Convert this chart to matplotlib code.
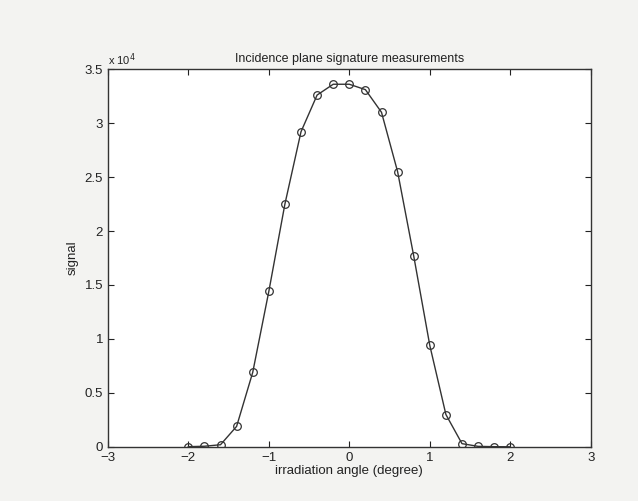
import numpy as np
import matplotlib.pyplot as plt
from matplotlib.ticker import FuncFormatter

plt.rcParams['font.family'] = ['Liberation Sans', 'DejaVu Sans']

angle = [-2.0, -1.8, -1.6, -1.4, -1.2, -1.0, -0.8, -0.6, -0.4, -0.2, 0.0,
         0.2, 0.4, 0.6, 0.8, 1.0, 1.2, 1.4, 1.6, 1.8, 2.0]
signal = [20, 60, 200, 1900, 6900, 14400, 22500, 29200, 32600, 33600, 33600,
          33100, 31000, 25500, 17700, 9400, 3000, 300, 50, 20, 10]

fig = plt.figure(figsize=(6.38, 5.01), dpi=100, facecolor='#f3f3f1')
ax = fig.add_axes([0.169, 0.108, 0.757, 0.754])
ax.set_facecolor('white')

ax.plot(angle, signal, '-', color='#333333', lw=1.0,
        marker='o', mfc='none', mec='#333333', ms=5.5, mew=0.9)

ax.set_xlim(-3, 3)
ax.set_ylim(0, 35000)
ax.set_xticks([-3, -2, -1, 0, 1, 2, 3])
ax.set_yticks(np.arange(0, 35001, 5000))
ax.yaxis.set_major_formatter(FuncFormatter(lambda v, p: f"{v/1e4:g}"))
ax.tick_params(direction='in', length=4, labelsize=9.5, colors='#222222',
               top=True, right=True)
for s in ax.spines.values():
    s.set_color('#333333')
    s.set_linewidth(1.0)

ax.text(0.0, 1.003, r'x 10$^4$', transform=ax.transAxes, fontsize=8,
        color='#222222', va='bottom', ha='left')
ax.set_title('Incidence plane signature measurements', fontsize=9,
             color='#222222', pad=5)
ax.set_xlabel('irradiation angle (degree)', fontsize=9.5, color='#222222', labelpad=1)
ax.set_ylabel('signal', fontsize=9.5, color='#222222', labelpad=4)

fig.savefig('out.png', dpi=100, facecolor=fig.get_facecolor())
